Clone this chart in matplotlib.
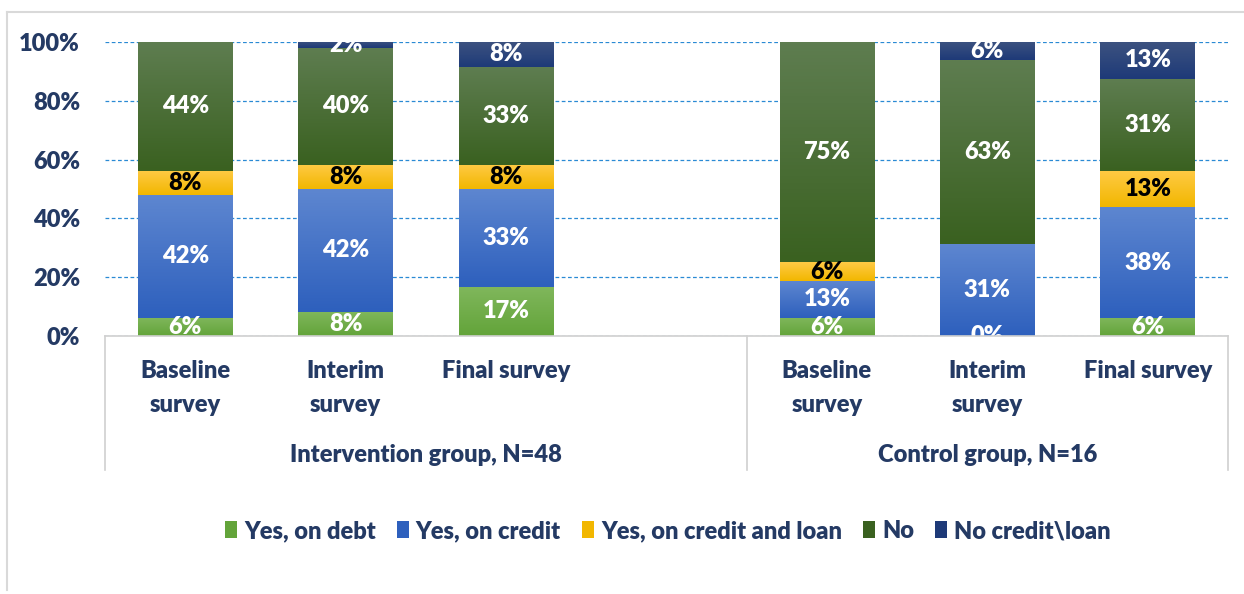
import numpy as np
import matplotlib.pyplot as plt
from matplotlib.colors import LinearSegmentedColormap
from matplotlib.lines import Line2D
from matplotlib.patches import Patch

plt.rcParams['font.family'] = ['Lato', 'DejaVu Sans']
plt.rcParams['font.weight'] = 'heavy'

# survey rounds, two groups (slot 3 is the gap between groups)
categories = ["Baseline\nsurvey", "Interim\nsurvey", "Final survey",
              "Baseline\nsurvey", "Interim\nsurvey", "Final survey"]
positions = [0, 1, 2, 4, 5, 6]
groups = ["Intervention group, N=48", "Control group, N=16"]
group_spans = [(-0.5, 3.5), (3.5, 6.5)]

series_names = ["Yes, on debt", "Yes, on credit", "Yes, on credit and loan",
                "No", "No credit\\loan"]
yes_debt = [6.25, 8.33, 16.67, 6.25, 0.0, 6.25]
yes_credit = [41.67, 41.67, 33.33, 12.5, 31.25, 37.5]
yes_credit_loan = [8.33, 8.33, 8.33, 6.25, 0.0, 12.5]
no = [43.75, 39.58, 33.33, 75.0, 62.5, 31.25]
no_credit_loan = [0.0, 2.08, 8.33, 0.0, 6.25, 12.5]
values = [yes_debt, yes_credit, yes_credit_loan, no, no_credit_loan]

# gradient colours (top, bottom) like the excel fill
grads = [("#80b75c", "#63a43a"),
         ("#5d86d0", "#2e60bd"),
         ("#ffca45", "#f2b700"),
         ("#5e7d50", "#3a6120"),
         ("#3c5280", "#1e3a78")]
text_cols = ["white", "white", "black", "white", "white"]
navy = "#243a64"
fs = 17

fig = plt.figure(figsize=(12.44, 5.94), dpi=100)
ax = fig.add_axes([105/1244, 1-336/594, (1228-105)/1244, 294/594])

bottom = np.zeros(len(positions))
width = 0.59
for i, vals in enumerate(values):
    vals = np.array(vals)
    bars = ax.bar(positions, vals, width, bottom=bottom, color=grads[i][1],
                  zorder=2, label=series_names[i])
    cmap = LinearSegmentedColormap.from_list("g%d" % i, [grads[i][1], grads[i][0]])
    grad = np.linspace(0, 1, 64).reshape(-1, 1)
    for b in bars:
        if b.get_height() <= 0:
            continue
        x0, y0 = b.get_x(), b.get_y()
        ax.imshow(grad, cmap=cmap, origin='lower', aspect='auto', zorder=2.5,
                  extent=[x0, x0 + b.get_width(), y0, y0 + b.get_height()])
    for x, v, b0 in zip(positions, vals, bottom):
        if v > 0 or i == 0:
            ax.text(x, b0 + v/2, "%d%%" % int(v + 0.5), ha='center', va='center',
                    color=text_cols[i], fontsize=fs, zorder=4)
    bottom += vals

ax.set_xlim(-0.5, 6.5)
ax.set_ylim(0, 100)
ax.set_yticks([0, 20, 40, 60, 80, 100])
ax.set_yticklabels(["%d%%" % t for t in [0, 20, 40, 60, 80, 100]])
ax.tick_params(axis='y', length=0, pad=18, labelsize=fs, labelcolor=navy)
ax.set_xticks([])
for s in ax.spines.values():
    s.set_visible(False)
ax.yaxis.grid(True, linestyle=(0, (3, 2)), color="#2a8ad4", linewidth=0.9)
ax.set_axisbelow(True)

# category axis box
tr = ax.get_xaxis_transform()
box = "#d0d0d0"
ax.plot([-0.5, 6.5], [0, 0], color=box, lw=1.2, transform=tr, clip_on=False, zorder=5)
for xv in [-0.5, 3.5, 6.5]:
    ax.plot([xv, xv], [0, -134/294], color=box, lw=1.2, transform=tr, clip_on=False)
for x, c in zip(positions, categories):
    for k, line in enumerate(c.split("\n")):
        ax.text(x, -(35 + 34*k)/294, line, ha='center', va='center', transform=tr,
                fontsize=fs, color=navy)
for (a, b), g in zip(group_spans, groups):
    ax.text((a + b)/2, -119/294, g, ha='center', va='center', transform=tr,
            fontsize=fs, color=navy)

handles = [Patch(facecolor=grads[i][1]) for i in range(5)]
fig.legend(handles, series_names, loc='center', bbox_to_anchor=(668/1244, 63/594),
           ncol=5, frameon=False, handlelength=0.5, handleheight=0.75,
           handletextpad=0.3, columnspacing=0.9, fontsize=fs,
           labelcolor=navy)

# light outer frame
fig.add_artist(Line2D([7/1244, 7/1244], [4/594, 1-12/594], color="#d9d9d9", lw=1.5))
fig.add_artist(Line2D([7/1244, 1], [1-12/594, 1-12/594], color="#d9d9d9", lw=1.5))

fig.savefig("out.png", dpi=100)
